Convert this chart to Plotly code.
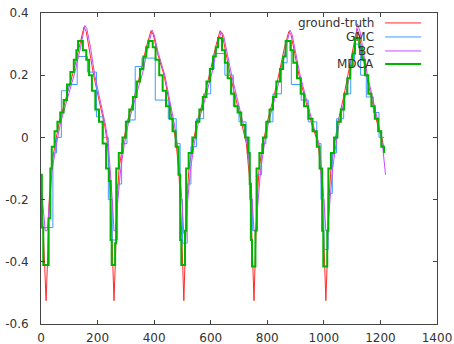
import plotly.graph_objects as go

series_names = ["ground-truth", "GMC", "BC", "MDCA"]

gt_x = [0, 6, 12, 18, 23, 28, 36, 50, 65, 90, 117, 135, 152, 160, 172, 186, 205, 225, 235, 242, 250, 258,
        263, 268, 276, 290, 305, 330, 355, 372, 389, 397, 412, 435, 452, 468, 478, 488, 497, 505,
        510, 515, 523, 537, 552, 577, 600, 617, 633, 641, 654, 669, 690, 712, 726, 736, 745, 753,
        758, 763, 771, 785, 800, 823, 845, 861, 876, 884, 897, 912, 935, 958, 980, 990, 999, 1007,
        1012, 1017, 1025, 1038, 1050, 1070, 1090, 1104, 1117, 1125, 1137, 1150, 1170, 1190, 1205, 1215]
gt_y = [-0.12, -0.25, -0.4, -0.525, -0.4, -0.22, -0.1, -0.02, 0.05, 0.13, 0.22, 0.29, 0.355, 0.34, 0.28, 0.2, 0.12, 0.04, -0.02, -0.12, -0.3, -0.525,
        -0.4, -0.22, -0.1, -0.02, 0.05, 0.13, 0.22, 0.29, 0.343, 0.33, 0.27, 0.2, 0.12, 0.04, -0.02, -0.12, -0.3, -0.525,
        -0.4, -0.22, -0.1, -0.02, 0.05, 0.13, 0.22, 0.29, 0.343, 0.33, 0.27, 0.2, 0.12, 0.04, -0.02, -0.12, -0.3, -0.525,
        -0.4, -0.22, -0.1, -0.02, 0.05, 0.13, 0.22, 0.29, 0.34, 0.33, 0.27, 0.2, 0.12, 0.04, -0.02, -0.12, -0.3, -0.525,
        -0.4, -0.22, -0.1, -0.02, 0.05, 0.13, 0.22, 0.29, 0.35, 0.33, 0.27, 0.2, 0.12, 0.04, 0.0, -0.05]

gmc_x = [0, 4, 42, 55, 72, 96, 128, 164, 196, 220, 238, 252, 270, 285, 304, 333, 357, 404, 450, 478, 492, 500,
         517, 530, 550, 575, 600, 612, 650, 680, 700, 725, 738, 748, 765, 780, 795, 820, 850, 870, 885, 920,
         945, 975, 990, 1000, 1015, 1030, 1045, 1070, 1095, 1108, 1130, 1150, 1175, 1195, 1213]
gmc_y = [-0.2, -0.29, -0.05, 0.0, 0.15, 0.17, 0.26, 0.21, 0.066, 0.0, -0.2, -0.33, -0.15, -0.02, 0.056, 0.228, 0.255, 0.12, 0.06, -0.02, -0.2, -0.34,
         -0.15, -0.03, 0.06, 0.14, 0.22, 0.27, 0.2, 0.1, 0.05, 0.0, -0.2, -0.3, -0.12, -0.02, 0.05, 0.14, 0.24, 0.31, 0.17, 0.12,
         0.05, -0.02, -0.2, -0.36, -0.18, -0.05, 0.06, 0.14, 0.25, 0.3, 0.2, 0.13, 0.08, 0.0, 0.0]

bc_x = [0, 8, 15, 22, 30, 40, 55, 70, 95, 120, 140, 155, 162, 175, 190, 210, 228, 238, 245, 252, 258, 264,
        272, 282, 295, 310, 335, 360, 378, 393, 400, 415, 438, 455, 472, 482, 490, 498, 505, 511,
        519, 529, 542, 557, 582, 605, 622, 637, 645, 658, 674, 695, 716, 729, 738, 746, 753, 759,
        767, 777, 790, 805, 828, 850, 866, 880, 888, 901, 916, 939, 962, 983, 992, 1000, 1007, 1013,
        1021, 1031, 1043, 1055, 1075, 1094, 1108, 1119, 1128, 1140, 1154, 1174, 1194, 1208, 1218]
bc_y = [-0.15, -0.22, -0.3, -0.3, -0.2, -0.1, -0.02, 0.05, 0.13, 0.21, 0.29, 0.36, 0.35, 0.29, 0.2, 0.12, 0.04, -0.02, -0.1, -0.2, -0.3, -0.3,
        -0.2, -0.1, -0.02, 0.05, 0.13, 0.21, 0.29, 0.345, 0.33, 0.27, 0.2, 0.12, 0.04, -0.02, -0.1, -0.2, -0.31, -0.31,
        -0.2, -0.1, -0.02, 0.05, 0.13, 0.21, 0.29, 0.34, 0.33, 0.27, 0.2, 0.12, 0.04, -0.02, -0.1, -0.2, -0.3, -0.3,
        -0.2, -0.1, -0.02, 0.05, 0.13, 0.21, 0.29, 0.345, 0.33, 0.27, 0.2, 0.12, 0.04, -0.02, -0.1, -0.2, -0.3, -0.3,
        -0.2, -0.1, -0.02, 0.05, 0.13, 0.21, 0.29, 0.365, 0.34, 0.27, 0.2, 0.12, 0.04, -0.03, -0.12]

mdca_x = [0, 3, 8, 27, 33, 38, 48, 58, 68, 80, 92, 104, 116, 125, 131, 148, 160, 170, 180, 192, 205, 218, 230, 240, 246, 250,
          262, 266, 275, 288, 300, 312, 325, 338, 350, 362, 372, 380, 395, 405, 418, 430, 442, 455, 465, 476, 486, 492, 496,
          509, 513, 522, 535, 548, 560, 572, 585, 597, 608, 618, 626, 640, 650, 660, 672, 684, 695, 708, 722, 732, 738, 742, 746,
          758, 762, 772, 785, 797, 808, 820, 832, 845, 856, 865, 882, 892, 905, 918, 930, 945, 960, 975, 985, 994, 998,
          1012, 1016, 1025, 1036, 1048, 1060, 1072, 1083, 1093, 1102, 1110, 1125, 1135, 1145, 1157, 1168, 1180, 1192, 1203, 1213]
mdca_y = [-0.12, -0.29, -0.41, -0.26, -0.1, -0.03, 0.02, 0.05, 0.08, 0.12, 0.17, 0.21, 0.25, 0.28, 0.31, 0.28, 0.25, 0.2, 0.15, 0.09, 0.05, -0.02, -0.1, -0.14, -0.33, -0.41,
          -0.34, -0.1, -0.05, 0.0, 0.05, 0.09, 0.13, 0.18, 0.22, 0.26, 0.29, 0.31, 0.29, 0.25, 0.2, 0.15, 0.1, 0.06, 0.02, -0.03, -0.12, -0.33, -0.41,
          -0.3, -0.1, -0.05, 0.0, 0.05, 0.09, 0.13, 0.18, 0.22, 0.26, 0.29, 0.32, 0.28, 0.24, 0.19, 0.14, 0.1, 0.08, 0.04, 0.0, -0.05, -0.15, -0.33, -0.415,
          -0.3, -0.1, -0.05, 0.0, 0.05, 0.09, 0.13, 0.18, 0.22, 0.26, 0.31, 0.28, 0.24, 0.19, 0.14, 0.1, 0.06, 0.02, -0.03, -0.1, -0.3, -0.415,
          -0.3, -0.1, -0.05, 0.0, 0.05, 0.09, 0.14, 0.19, 0.23, 0.27, 0.32, 0.29, 0.25, 0.2, 0.14, 0.1, 0.06, 0.02, -0.03, -0.05]

x_tick_vals = [0, 200, 400, 600, 800, 1000, 1200, 1400]
x_tick_text = ["0", "200", "400", "600", "800", "1000", "1200", "1400"]
y_tick_vals = [-0.6, -0.4, -0.2, 0, 0.2, 0.4]
y_tick_text = ["-0.6", "-0.4", "-0.2", "0", "0.2", "0.4"]

colors = ["#ff2a2a", "#3d9cff", "#c84cff", "#00b400"]
widths = [1, 1, 1, 2]
shapes_mode = ["linear", "hv", "linear", "hv"]
data = [(gt_x, gt_y), (gmc_x, gmc_y), (bc_x, bc_y), (mdca_x, mdca_y)]

fig = go.Figure()
for name, (xs, ys), c, w, sh in zip(series_names, data, colors, widths, shapes_mode):
    fig.add_trace(go.Scatter(x=xs, y=ys, mode="lines", name=name,
                             line=dict(color=c, width=w, shape=sh), showlegend=False))

font = dict(family="DejaVu Sans", size=12, color="#333333")

# gnuplot-style key: right-aligned text followed by line sample
row_y = [0.968, 0.923, 0.878, 0.836]
annotations = []
shapes = []
for name, c, w, ry in zip(series_names, colors, widths, row_y):
    annotations.append(dict(x=0.845, y=ry, xref="paper", yref="paper", text=name,
                            showarrow=False, xanchor="right", yanchor="middle", font=font))
    shapes.append(dict(type="line", xref="paper", yref="paper", x0=0.869, x1=0.96,
                       y0=ry, y1=ry, line=dict(color=c, width=w)))

axis_common = dict(showline=True, linecolor="#444444", linewidth=1, mirror="ticks",
                   ticks="inside", ticklen=4, tickcolor="#444444", showgrid=False,
                   zeroline=False, tickfont=font, automargin=False)

fig.update_layout(
    width=454, height=344,
    margin=dict(l=41, r=17, t=13, b=20),
    paper_bgcolor="white", plot_bgcolor="white",
    xaxis=dict(range=[0, 1400], tickvals=x_tick_vals, ticktext=x_tick_text,
               ticklabelstandoff=3, **axis_common),
    yaxis=dict(range=[-0.6, 0.4], tickvals=y_tick_vals, ticktext=y_tick_text,
               ticklabelstandoff=9, **axis_common),
    annotations=annotations, shapes=shapes,
)

fig.write_html("out.html", config={"displayModeBar": False},
               post_script="document.body.style.margin='0';document.body.style.overflow='hidden';")
